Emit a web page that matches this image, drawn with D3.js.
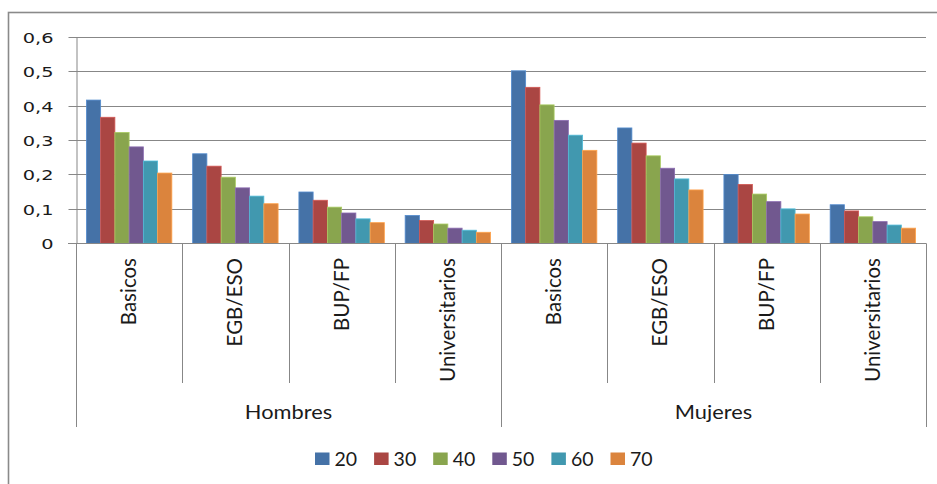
<!DOCTYPE html>
<html>
<head>
<meta charset="utf-8">
<script src="https://cdn.jsdelivr.net/npm/d3@7"></script>
<style>
  html, body { margin: 0; padding: 0; background: #fff; }
  svg { display: block; }
</style>
</head>
<body>
<svg id="chart" width="937" height="484"></svg>
<script>
// Groups, education levels and age series
const groups = ["Hombres", "Mujeres"];
const levels = ["Basicos", "EGB/ESO", "BUP/FP", "Universitarios"];
const seriesNames = ["20", "30", "40", "50", "60", "70"];
const seriesColors = ["#4572A7", "#AA4643", "#89A54E", "#71588F", "#4198AF", "#DB843D"];

// One value per (group, level), in order: Hombres x 4 levels, then Mujeres x 4 levels
const s20 = [0.416, 0.260, 0.149, 0.081, 0.501, 0.335, 0.200, 0.112];
const s30 = [0.366, 0.224, 0.125, 0.066, 0.453, 0.291, 0.171, 0.094];
const s40 = [0.322, 0.192, 0.105, 0.056, 0.402, 0.254, 0.143, 0.077];
const s50 = [0.280, 0.161, 0.088, 0.044, 0.357, 0.218, 0.121, 0.063];
const s60 = [0.239, 0.137, 0.071, 0.038, 0.314, 0.187, 0.100, 0.053];
const s70 = [0.204, 0.115, 0.060, 0.032, 0.270, 0.155, 0.085, 0.044];

const yTicks = [0, 0.1, 0.2, 0.3, 0.4, 0.5, 0.6];

const seriesValues = [s20, s30, s40, s50, s60, s70];

const svg = d3.select("#chart");
const W = 937, H = 484;
const plot = { left: 76, right: 926, top: 36.7, bottom: 243.3 };

// Outer chart frame
svg.append("rect")
  .attr("x", 8.5).attr("y", 12.5)
  .attr("width", W + 20).attr("height", H + 20)
  .attr("fill", "#fff")
  .attr("stroke", "#8a8a8a").attr("stroke-width", 1.6);

// Scales
const y = d3.scaleLinear().domain([0, 0.6]).range([plot.bottom, plot.top]);
const xGroup = d3.scaleBand().domain(groups).range([plot.left, plot.right]);
const xLevel = d3.scaleBand().domain(levels).range([0, xGroup.bandwidth()]);
const catPad = 10.4;
const xSeries = d3.scaleBand().domain(seriesNames).range([catPad, xLevel.bandwidth() - catPad]);
const color = d3.scaleOrdinal().domain(seriesNames).range(seriesColors);

const gridColor = "#878787";

// Horizontal gridlines
svg.append("g")
  .selectAll("line")
  .data(yTicks.filter(t => t > 0))
  .join("line")
  .attr("x1", plot.left).attr("x2", plot.right)
  .attr("y1", d => Math.round(y(d)) + 0.5).attr("y2", d => Math.round(y(d)) + 0.5)
  .attr("stroke", gridColor).attr("stroke-width", 1);

// Y axis
const yAxis = d3.axisLeft(y)
  .tickValues(yTicks)
  .tickSize(8)
  .tickSizeOuter(0)
  .tickFormat(d => d3.format(".1f")(d).replace(".", ",").replace(/^0,0$/, "0"));

const yG = svg.append("g")
  .attr("transform", `translate(${plot.left + 0.5},0)`)
  .call(yAxis);
yG.select(".domain").attr("stroke", gridColor);
yG.selectAll(".tick line").attr("stroke", gridColor);
yG.selectAll(".tick").attr("transform", d => `translate(0,${Math.round(y(d)) + 0.5})`);
yG.selectAll(".tick text")
  .attr("x", 0).attr("dy", "0.36em")
  .attr("transform", "translate(-23,0) scale(1.38,1)")
  .attr("fill", "#1a1a1a")
  .style("font-family", "'DejaVu Sans', Verdana, sans-serif")
  .style("font-size", "14px");

// Rows of data as (group, level, values)
const rows = [];
groups.forEach((g, gi) => {
  levels.forEach((l, li) => {
    const idx = gi * levels.length + li;
    rows.push({ group: g, level: l, values: seriesNames.map((s, si) => ({ key: s, value: seriesValues[si][idx] })) });
  });
});

const catX = r => xGroup(r.group) + xLevel(r.level);

// Bars
const catG = svg.append("g")
  .selectAll("g")
  .data(rows)
  .join("g")
  .attr("transform", r => `translate(${catX(r)},0)`);

catG.selectAll("rect")
  .data(r => r.values)
  .join("rect")
  .attr("x", d => xSeries(d.key))
  .attr("y", d => y(d.value))
  .attr("width", xSeries.bandwidth())
  .attr("height", d => y(0) - y(d.value))
  .attr("fill", d => color(d.key))
  .attr("stroke", d => d3.color(color(d.key)).brighter(0.6))
  .attr("stroke-width", 0.8);

// Baseline
svg.append("line")
  .attr("x1", plot.left - 8).attr("x2", plot.right)
  .attr("y1", Math.round(y(0)) + 0.5).attr("y2", Math.round(y(0)) + 0.5)
  .attr("stroke", gridColor);

// Category dividers
const levelBottom = 383, groupBottom = 427;
const dividers = [];
groups.forEach(g => levels.forEach(l => dividers.push({ x: xGroup(g) + xLevel(l), outer: xLevel(l) === 0 })));
dividers.push({ x: plot.right, outer: true });

svg.append("g")
  .selectAll("line")
  .data(dividers)
  .join("line")
  .attr("x1", d => Math.round(d.x) + 0.5).attr("x2", d => Math.round(d.x) + 0.5)
  .attr("y1", y(0)).attr("y2", d => d.outer ? groupBottom : levelBottom)
  .attr("stroke", gridColor);

// Rotated level labels
svg.append("g")
  .selectAll("text")
  .data(rows)
  .join("text")
  .attr("transform", r => `translate(${catX(r) + xLevel.bandwidth() / 2 + 7},258) rotate(-90)`)
  .attr("text-anchor", "end")
  .attr("fill", "#1a1a1a")
  .style("font-family", "Lato, 'Open Sans', sans-serif")
  .style("font-size", "20.5px")
  .text(r => r.level);

// Group labels
svg.append("g")
  .selectAll("text")
  .data(groups)
  .join("text")
  .attr("transform", g => `translate(${xGroup(g) + xGroup.bandwidth() / 2},419) scale(1.18,1)`)
  .attr("text-anchor", "middle")
  .attr("fill", "#1a1a1a")
  .style("font-family", "Lato, 'Open Sans', sans-serif")
  .style("font-size", "18.5px")
  .text(g => g);

// Legend
const legendX = d3.scaleBand().domain(seriesNames).range([315, 315 + 59.1 * seriesNames.length]);
const lg = svg.append("g")
  .selectAll("g")
  .data(seriesNames)
  .join("g")
  .attr("transform", s => `translate(${legendX(s)},459)`);
lg.append("rect")
  .attr("x", 0).attr("y", -6.5)
  .attr("width", 14.5).attr("height", 12.5)
  .attr("fill", s => color(s));
lg.append("text")
  .attr("x", 19.5).attr("y", 7)
  .attr("fill", "#1a1a1a")
  .style("font-family", "Lato, 'Open Sans', sans-serif")
  .style("font-size", "19.5px")
  .text(s => s);
</script>
</body>
</html>
